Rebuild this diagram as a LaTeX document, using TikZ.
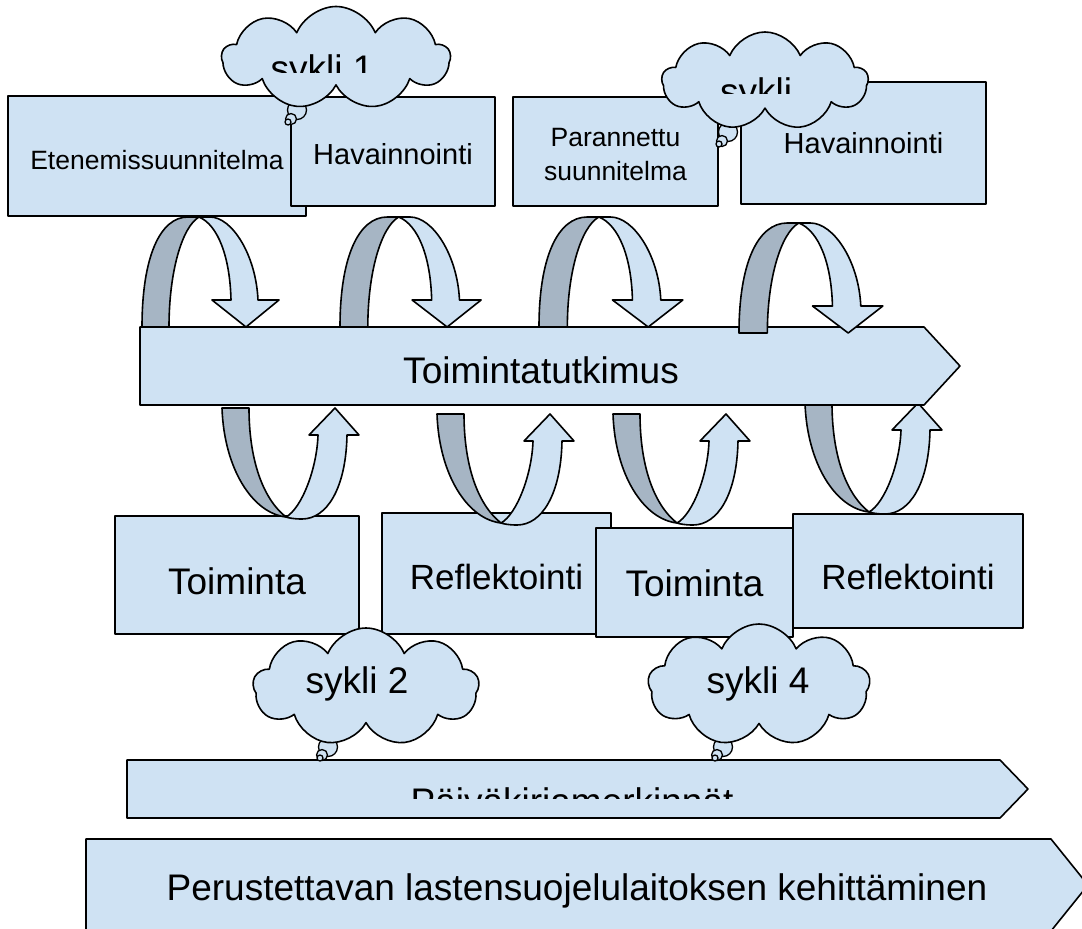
\documentclass[tikz,border=0pt]{standalone}
\usepackage{fontspec}
\setmainfont{Liberation Sans}
\usetikzlibrary{shapes.symbols}
\definecolor{pastelblue}{HTML}{CFE2F3}
\definecolor{bandgray}{HTML}{A6B5C4}

\begin{document}
\begin{tikzpicture}[x=1pt,y=-1pt,
    line width=1.6pt, line join=round,
    box/.style={draw,fill=pastelblue,inner sep=0pt,text depth=0pt},
    banner/.style={draw,fill=pastelblue},
    cloudy/.style={shape=cloud,draw,fill=pastelblue,cloud puffs=9,
      cloud puff arc=135,cloud ignores aspect,inner sep=0pt},
    bubble/.style={draw,fill=pastelblue,line width=1.3pt},
    fbig/.style={font=\fontsize{37}{44}\selectfont},
    fmid/.style={font=\fontsize{35}{42}\selectfont},
    fsmall/.style={font=\fontsize{29}{35}\selectfont},
    ftiny/.style={font=\fontsize{26.5}{34}\selectfont},
    overarc/.pic={
      \filldraw[fill=bandgray] (0,0) .. controls (0,-70) and (18,-110) .. (46,-110)
        -- (57,-110) .. controls (40,-100) and (27,-55) .. (27,0) -- cycle;
      \filldraw[fill=pastelblue] (57,-110) -- (68,-110)
        .. controls (90,-110) and (114,-72) .. (116,-27) -- (137,-27) -- (104,0)
        -- (70,-27) -- (89,-27) .. controls (88,-70) and (76,-102) .. (57,-110) -- cycle;
    },
    underarc/.pic={
      \filldraw[fill=bandgray] (0,0) -- (27,0) .. controls (27,50) and (40,90) .. (64,109)
        .. controls (30,105) and (2,60) .. (0,0) -- cycle;
      \filldraw[fill=pastelblue] (64,109) .. controls (80,100) and (95,60) .. (96,27)
        -- (87,27) -- (113,0) -- (137,27) -- (125,27)
        .. controls (124,80) and (105,111) .. (80,111)
        .. controls (72,111) and (67,110) .. (64,109) -- cycle;
    }
  ]
  \useasboundingbox (0,0) rectangle (1082,929);
  \fill[white] (0,0) rectangle (1082,929);

  % upper row
  \node[box,ftiny,minimum width=298,minimum height=120,text height=26pt] (ete) at (157,156) {Etenemissuunnitelma};
  \node[box,fsmall,minimum width=204,minimum height=109,text height=25pt] (hav1) at (393,151.5) {Havainnointi};
  \node[box,ftiny,align=center,minimum width=205,minimum height=109,text height=57pt] (par) at (615.5,151.5) {Parannettu\\suunnitelma};
  \node[box,fsmall,minimum width=245,minimum height=122,text height=20pt] (hav2) at (863.5,143) {Havainnointi};

  \foreach \x/\y in {297/110,728/132}{
    \filldraw[bubble] (\x,\y) circle[radius=9.5];
    \filldraw[bubble] (\x-6,\y+9) circle[radius=5.5];
    \filldraw[bubble] (\x-9,\y+12) circle[radius=3];
  }
  \node[cloudy,minimum width=228,minimum height=103] (c1) at (336,58) {};
  \node[cloudy,minimum width=206,minimum height=98] (c3) at (765,81) {};
  \begin{scope}
    \clip (240,20) rectangle (420,72);
    \node[fbig,anchor=base] (s1) at (322,81) {sykli 1};
  \end{scope}
  \begin{scope}
    \clip (680,50) rectangle (850,93);
    \node[fbig,anchor=base] (s3) at (756,104) {sykli};
  \end{scope}

  % main line
  \pic at (805,403) {underarc};
  \path[banner] (140,327) -- (924,327) -- (960,366) -- (924,405) -- (140,405) -- cycle;
  \node[fbig,anchor=base] (tt) at (541,383) {Toimintatutkimus};
  \pic at (142,327) {overarc};
  \pic[xscale=1.03] at (340,327) {overarc};
  \pic[xscale=1.05] at (539,327) {overarc};
  \pic[xscale=1.05] at (739,333) {overarc};

  % lower row
  \node[box,fbig,minimum width=244,minimum height=118,text height=38pt] (toi1) at (237,575) {Toiminta};
  \node[box,fmid,minimum width=229,minimum height=121,text height=31pt] (ref1) at (496.5,573.5) {Reflektointi};
  \node[box,fbig,minimum width=197,minimum height=109,text height=27pt] (toi2) at (694.5,582.5) {Toiminta};
  \node[box,fmid,minimum width=230,minimum height=114,text height=36pt] (ref2) at (908,571) {Reflektointi};
  \pic at (222,408) {underarc};
  \pic at (437,414) {underarc};
  \pic at (613,414) {underarc};

  \path[banner] (127,760) -- (1000,760) -- (1028,789) -- (1000,818) -- (127,818) -- cycle;
  \begin{scope}
    \clip (380,770) rectangle (780,798);
    \node[fbig,anchor=base] (pk) at (572,814) {Päiväkirjamerkinnät};
  \end{scope}

  \foreach \x/\y in {328/747,723/747}{
    \filldraw[bubble] (\x,\y) circle[radius=9.5];
    \filldraw[bubble] (\x-6,\y+8) circle[radius=5.5];
    \filldraw[bubble] (\x-8,\y+11) circle[radius=3];
  }
  \node[cloudy,minimum width=226,minimum height=118] (c2) at (366,687) {};
  \node[cloudy,minimum width=222,minimum height=122] (c4) at (759,685) {};
  \node[fbig,anchor=base] (s2) at (357,693) {sykli 2};
  \node[fbig,anchor=base] (s4) at (758,693) {sykli 4};

  \path[banner] (86,839) -- (1051,839) -- (1088,885) -- (1051,931) -- (86,931) -- cycle;
  \node[fbig,anchor=base] (pl) at (577,900) {Perustettavan lastensuojelulaitoksen kehittäminen};
\end{tikzpicture}
\end{document}
